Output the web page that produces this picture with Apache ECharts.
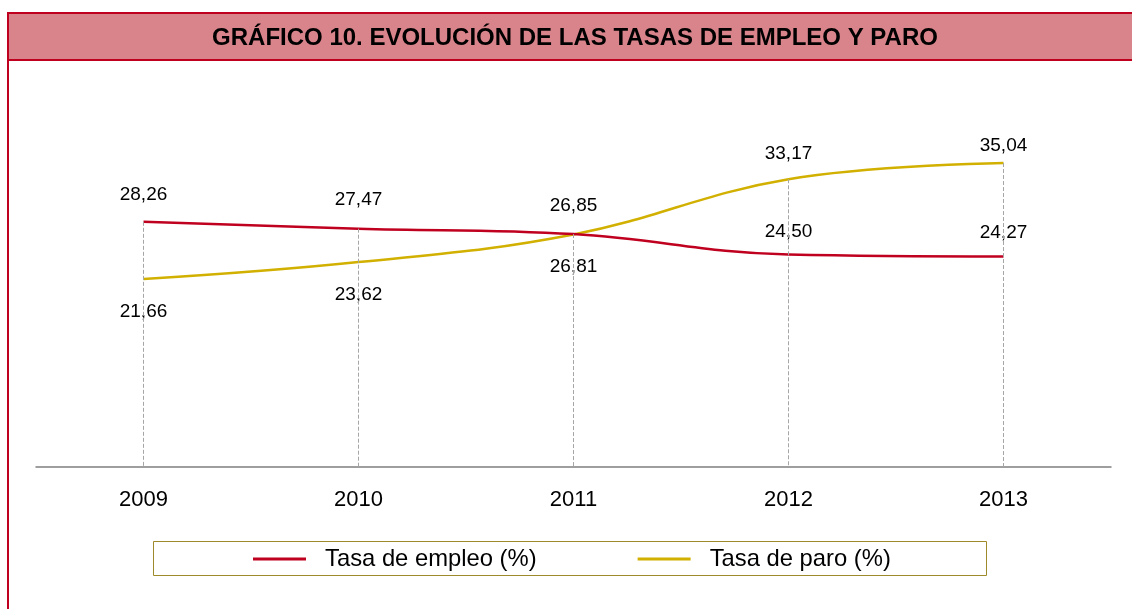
<!DOCTYPE html>
<html>
<head>
<meta charset="utf-8">
<script src="https://cdn.jsdelivr.net/npm/echarts@6/dist/echarts.min.js"></script>
<style>
  html, body { margin: 0; padding: 0; background: #fff; }
  #main { width: 1132px; height: 609px; }
</style>
</head>
<body>
<div id="main"></div>
<script>
var years = ["2009", "2010", "2011", "2012", "2013"];
var tasaEmpleo = [28.26, 27.47, 26.85, 24.50, 24.27];
var tasaParo = [21.66, 23.62, 26.81, 33.17, 35.04];
// where the paro label sits (above or below its line)
var paroLabelPos = ["bottom", "bottom", "bottom", "top", "top"];
// label gaps as placed in the original
var empleoLabelGap = [18, 19, 19, 13, 14];
var paroLabelGap = [23, 23, 23, 16, 8];

var red = "#c0001f";
var yellow = "#d2b000";
var font = "'Liberation Sans', Arial, sans-serif";

function fmt(v) {
  return v.toFixed(2).replace(".", ",");
}

// vertical dashed drop lines, from the highest point down to the axis
var dropLines = years.map(function (y, i) {
  return [
    { coord: [i, Math.max(tasaEmpleo[i], tasaParo[i])] },
    { coord: [i, 0] }
  ];
});

var myChart = echarts.init(document.getElementById("main"));
var option = {
  animation: false,
  textStyle: { fontFamily: font },
  title: {
    text: "GRÁFICO 10. EVOLUCIÓN DE LAS TASAS DE EMPLEO Y PARO",
    left: 570,
    textAlign: "center",
    top: 21,
    textStyle: {
      fontFamily: font,
      fontSize: 24,
      fontWeight: "bold",
      color: "#000"
    }
  },
  graphic: [
    {
      type: "rect",
      z: -1,
      shape: { x: 8, y: 13, width: 1130, height: 47 },
      style: { fill: "#d9838b", stroke: red, lineWidth: 2 }
    },
    {
      type: "line",
      shape: { x1: 8, y1: 13, x2: 8, y2: 609 },
      style: { stroke: red, lineWidth: 2 }
    },
    {
      type: "rect",
      shape: { x: 153.5, y: 541.5, width: 833, height: 34 },
      style: { fill: "none", stroke: "#9c8a2b", lineWidth: 1 }
    }
  ],
  legend: {
    left: 253,
    top: 547,
    icon: "rect",
    itemWidth: 53,
    itemHeight: 3,
    itemGap: 101,
    padding: 0,
    textStyle: {
      fontFamily: font,
      fontSize: 23.8,
      color: "#000",
      padding: [0, 0, 0, 14]
    },
    data: ["Tasa de empleo (%)", "Tasa de paro (%)"]
  },
  grid: {
    left: 36,
    right: 21,
    top: 120,
    bottom: 142
  },
  xAxis: {
    type: "category",
    boundaryGap: true,
    data: years,
    axisLine: { lineStyle: { color: "#7f7f7f", width: 1.5 } },
    axisTick: { show: false },
    axisLabel: {
      fontFamily: font,
      fontSize: 22,
      color: "#000",
      margin: 22
    },
    splitLine: { show: false }
  },
  yAxis: {
    type: "value",
    show: false,
    min: 0,
    max: 40,
    splitLine: { show: false }
  },
  series: [
    {
      name: "Tasa de empleo (%)",
      type: "line",
      data: tasaEmpleo.map(function (v, i) {
        return { value: v, label: { distance: empleoLabelGap[i] } };
      }),
      smooth: 0.4,
      showSymbol: true,
      symbol: "circle",
      symbolSize: 0,
      color: red,
      lineStyle: { color: red, width: 2.5 },
      label: {
        show: true,
        position: "top",
        fontFamily: font,
        fontSize: 19,
        color: "#000",
        formatter: function (p) { return fmt(p.value); }
      },
      markLine: {
        silent: true,
        symbol: "none",
        label: { show: false },
        lineStyle: { color: "#a6a6a6", type: "dashed", width: 1 },
        data: dropLines
      },
      z: 3
    },
    {
      name: "Tasa de paro (%)",
      type: "line",
      data: tasaParo.map(function (v, i) {
        return {
          value: v,
          label: { position: paroLabelPos[i], distance: paroLabelGap[i] }
        };
      }),
      smooth: 0.4,
      showSymbol: true,
      symbol: "circle",
      symbolSize: 0,
      color: yellow,
      lineStyle: { color: yellow, width: 2.5 },
      label: {
        show: true,
        fontFamily: font,
        fontSize: 19,
        color: "#000",
        formatter: function (p) { return fmt(p.value); }
      },
      z: 2
    }
  ]
};
myChart.setOption(option);
</script>
</body>
</html>
